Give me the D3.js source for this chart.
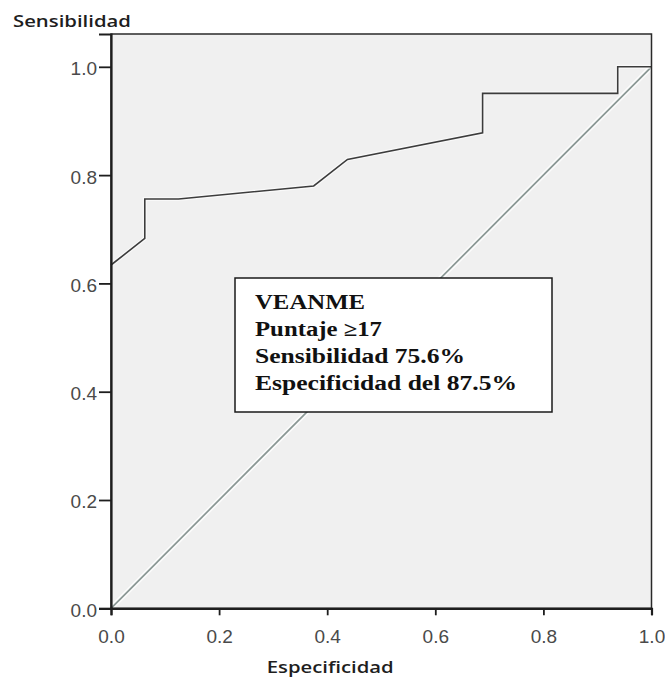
<!DOCTYPE html>
<html>
<head>
<meta charset="utf-8">
<script src="https://cdn.jsdelivr.net/npm/d3@7"></script>
<style>
  html, body { margin: 0; padding: 0; background: #ffffff; }
  svg { display: block; }
</style>
</head>
<body>
<div id="chart"></div>
<script>
// ---- data ----
const specificity = [0, 0.0625, 0.0625, 0.125, 0.375, 0.4375, 0.6875, 0.6875, 0.9375, 0.9375, 1.0];
const sensitivity = [0.634, 0.683, 0.756, 0.756, 0.780, 0.829, 0.878, 0.951, 0.951, 1.0, 1.0];
const referenceX = [0, 1];
const referenceY = [0, 1];
const xTicks = [0, 0.2, 0.4, 0.6, 0.8, 1.0];
const yTicks = [0, 0.2, 0.4, 0.6, 0.8, 1.0];
const xTitle = "Especificidad";
const yTitle = "Sensibilidad";
const noteLines = ["VEANME", "Puntaje \u226517", "Sensibilidad 75.6%", "Especificidad del 87.5%"];
const noteWidths = [110, 127, 210, 262];

// ---- layout ----
const W = 665, H = 678;
const pL = 111, pR = 651.5, pB = 608.3, pT = 34;
const yUpper = 1.0606;

const svg = d3.select("#chart").append("svg").attr("width", W).attr("height", H);

const x = d3.scaleLinear().domain([0, 1]).range([pL, pR]);
const y = d3.scaleLinear().domain([0, yUpper]).range([pB, pT]);

// panel background
svg.append("rect")
  .attr("x", pL).attr("y", pT)
  .attr("width", pR - pL).attr("height", pB - pT)
  .attr("fill", "#f0f0f0");

// reference diagonal (with light halo)
const refData = referenceX.map((v, i) => [v, referenceY[i]]);
const line = d3.line().x(d => x(d[0])).y(d => y(d[1]));
svg.append("path").datum(refData).attr("d", line)
  .attr("fill", "none").attr("stroke", "#ffffff").attr("stroke-width", 5).attr("opacity", 0.8);
svg.append("path").datum(refData).attr("d", line)
  .attr("fill", "none").attr("stroke", "#8a9794").attr("stroke-width", 1.7);

// ROC curve
const rocData = specificity.map((v, i) => [v, sensitivity[i]]);
svg.append("path").datum(rocData).attr("d", line)
  .attr("fill", "none").attr("stroke", "#ffffff").attr("stroke-width", 4).attr("opacity", 0.6);
svg.append("path").datum(rocData).attr("d", line)
  .attr("fill", "none").attr("stroke", "#3c3c3c").attr("stroke-width", 1.6);

// frame
svg.append("rect")
  .attr("x", pL).attr("y", pT)
  .attr("width", pR - pL).attr("height", pB - pT)
  .attr("fill", "none").attr("stroke", "#2a2a2a").attr("stroke-width", 1.5);

// axes
const fmt = d3.format(".1f");
const gx = svg.append("g").attr("transform", `translate(0,${pB})`)
  .call(d3.axisBottom(x).tickValues(xTicks).tickFormat(fmt).tickSize(7).tickPadding(6));
const gy = svg.append("g").attr("transform", `translate(${pL},0)`)
  .call(d3.axisLeft(y).tickValues(yTicks).tickFormat(fmt).tickSize(12).tickPadding(2));
[gx, gy].forEach(g => {
  g.select(".domain").attr("stroke", "#1e1e1e").attr("stroke-width", 2.2);
  g.selectAll(".tick line").attr("stroke", "#1e1e1e").attr("stroke-width", 1.8);
  g.selectAll(".tick text")
    .attr("fill", "#4a4a4a")
    .style("font-family", "'Liberation Sans', Arial, sans-serif")
    .style("font-size", "19px");
});
gx.selectAll(".tick text").attr("dy", "1.13em");
gy.selectAll(".tick text").attr("dy", "0.42em");

// axis titles
svg.append("text").attr("x", 13).attr("y", 27.3)
  .attr("textLength", 118).attr("lengthAdjust", "spacingAndGlyphs")
  .style("font-family", "'Open Sans', 'Noto Sans', sans-serif")
  .style("font-weight", 600).style("font-size", "17px")
  .attr("fill", "#1e1e1e").text(yTitle);
svg.append("text").attr("x", 266.7).attr("y", 673.3)
  .attr("textLength", 127).attr("lengthAdjust", "spacingAndGlyphs")
  .style("font-family", "'Open Sans', 'Noto Sans', sans-serif")
  .style("font-weight", 600).style("font-size", "17px")
  .attr("fill", "#1e1e1e").text(xTitle);

// annotation box
svg.append("rect")
  .attr("x", 235).attr("y", 278).attr("width", 317).attr("height", 134)
  .attr("fill", "#ffffff").attr("stroke", "#1a1a1a").attr("stroke-width", 1.5);
const baselines = [309.3, 336, 362.7, 389.5];
noteLines.forEach((t, i) => {
  svg.append("text").attr("x", 255).attr("y", baselines[i])
    .attr("textLength", noteWidths[i]).attr("lengthAdjust", "spacingAndGlyphs")
    .style("font-family", "'Liberation Serif', 'Times New Roman', serif")
    .style("font-weight", "bold").style("font-size", "20px")
    .attr("fill", "#111").text(t);
});
</script>
</body>
</html>
